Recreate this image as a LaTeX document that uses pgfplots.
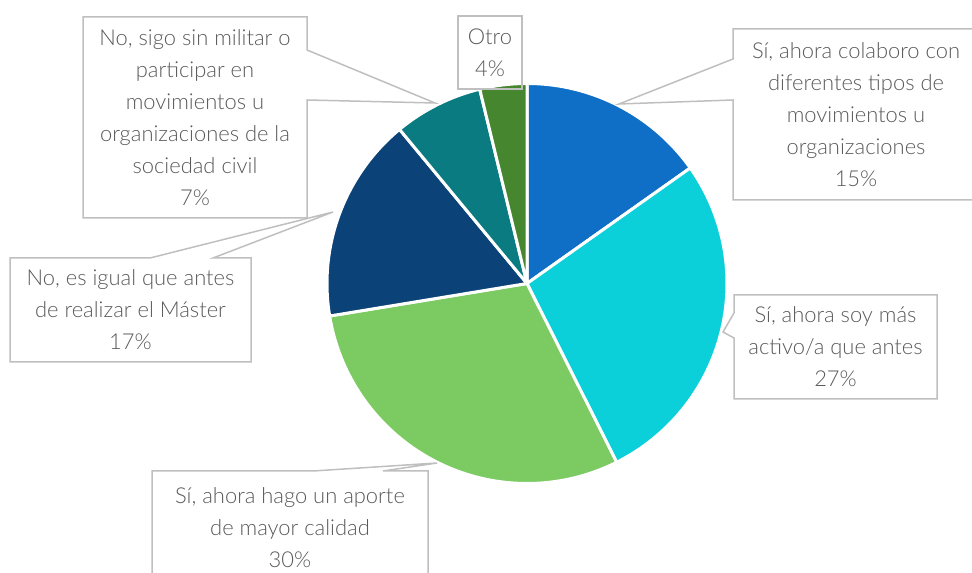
\documentclass[border=0pt]{standalone}
\usepackage{fontspec}
\setmainfont{Lato}[UprightFont=* Light]
\usepackage{pgfplots}
\usepackage{pgfplotstable}
\pgfplotsset{compat=1.18}
\definecolor{cA}{HTML}{0F6FC6}
\definecolor{cB}{HTML}{0BD0D9}
\definecolor{cC}{HTML}{7CCA62}
\definecolor{cD}{HTML}{0B4278}
\definecolor{cE}{HTML}{0A7B80}
\definecolor{cF}{HTML}{45862F}
\definecolor{txt}{HTML}{595959}
\definecolor{bxc}{HTML}{BFBFBF}
\tikzset{lbl/.style={font=\fontsize{22}{32}\selectfont, text=txt, align=center, inner sep=0pt}}
% slice: colour, cumulative start (%), value (%)
\newcommand{\slice}[3]{%
  \fill[#1, draw=white, line width=3bp, line join=round]
    (axis cs:527,289.5) -- +({90-3.6*(#2)}:200bp)
    arc[start angle={90-3.6*(#2)}, delta angle={-3.6*(#3)}, radius=200bp] -- cycle;}
\begin{document}
\begin{tikzpicture}
\begin{axis}[
  width=972bp, height=573bp, scale only axis,
  xmin=0, xmax=972, ymin=0, ymax=573,
  hide axis, clip=true,
]
% values (%): 15.2, 27.4, 29.8, 16.6, 7.2, 3.8
\slice{cA}{0}{15.2}
\slice{cB}{15.2}{27.4}
\slice{cC}{42.6}{29.8}
\slice{cD}{72.4}{16.6}
\slice{cE}{89.0}{7.2}
\slice{cF}{96.2}{3.8}
% callout boxes
\draw[bxc, line width=1.5bp] (axis cs:980,544) -- (axis cs:733,544) -- (axis cs:733,514) -- (axis cs:619,469) -- (axis cs:733,473) -- (axis cs:733,373) -- (axis cs:980,373);
\draw[bxc, line width=1.5bp] (axis cs:83,556) -- (axis cs:307,556) -- (axis cs:307,523) -- (axis cs:435,470) -- (axis cs:307,473) -- (axis cs:307,355) -- (axis cs:83,355) -- cycle;
\draw[bxc, line width=1.5bp] (axis cs:458,557) rectangle (axis cs:522,484);
\draw[bxc, line width=1.5bp] (axis cs:10,315) -- (axis cs:150,315) -- (axis cs:333,361) -- (axis cs:213,315) -- (axis cs:251,315) -- (axis cs:251,211) -- (axis cs:10,211) -- cycle;
\draw[bxc, line width=1.5bp] (axis cs:734,278) -- (axis cs:937,278) -- (axis cs:937,174) -- (axis cs:734,174) -- (axis cs:734,235) -- (axis cs:723,241) -- (axis cs:734,260) -- cycle;
\draw[bxc, line width=1.5bp] (axis cs:152,-10) -- (axis cs:152,102) -- (axis cs:313,102) -- (axis cs:437,110) -- (axis cs:383,102) -- (axis cs:428,102) -- (axis cs:428,-10);
% labels
\node[lbl] at (axis cs:856,458.5) {Sí, ahora colaboro con\\diferentes tipos de\\movimientos u\\organizaciones\\15\%};
\node[lbl] at (axis cs:195,455.5) {No, sigo sin militar o\\participar en\\movimientos u\\organizaciones de la\\sociedad civil\\7\%};
\node[lbl] at (axis cs:490,520.5) {Otro\\4\%};
\node[lbl] at (axis cs:130.5,263) {No, es igual que antes\\de realizar el Máster\\17\%};
\node[lbl] at (axis cs:835.5,226) {Sí, ahora soy más\\activo/a que antes\\27\%};
\node[lbl] at (axis cs:290,45) {Sí, ahora hago un aporte\\de mayor calidad\\30\%};
\end{axis}
\pgfresetboundingbox
\path (0,0) rectangle (972bp,573bp);
\end{tikzpicture}
\end{document}
